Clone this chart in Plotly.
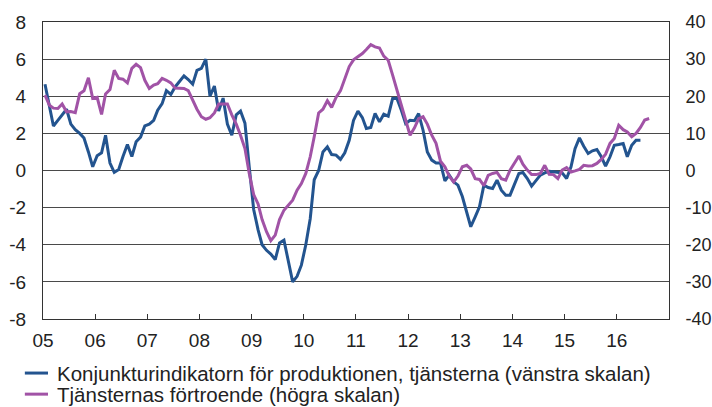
import plotly.graph_objects as go

# Monthly observations, starting January 2005
START_YEAR = 2005

# Konjunkturindikatorn för produktionen, tjänsterna (left scale)
produktion = [
    4.65, 3.5, 2.4, 2.7, 3.0, 3.3, 2.5, 2.2, 2.0, 1.75, 1.0, 0.2,
    0.8, 0.95, 1.9, 0.4, -0.1, 0.05, 0.75, 1.4, 0.75, 1.55, 1.8, 2.4,
    2.5, 2.7, 3.25, 3.6, 4.3, 4.1, 4.5, 4.8, 5.1, 4.9, 4.65, 5.4,
    5.5, 6.0, 4.0, 4.55, 3.2, 3.9, 2.5, 1.9, 3.0, 3.2, 2.55, 0.2,
    -2.1, -3.2, -4.0, -4.3, -4.5, -4.8, -3.9, -3.75, -5.0, -6.0, -5.7, -5.1,
    -4.0, -2.6, -0.5, 0.0, 1.0, 1.27, 0.86, 0.83, 0.6, 0.95, 1.63, 2.7,
    3.2, 2.85, 2.26, 2.32, 3.07, 2.62, 3.03, 2.93, 3.88, 3.88, 3.25, 2.53,
    2.71, 2.68, 3.07, 2.17, 1.0, 0.56, 0.41, 0.41, -0.56, -0.25, -0.61, -0.79,
    -1.4, -2.3, -3.03, -2.5, -1.96, -0.79, -0.92, -0.97, -0.52, -1.06, -1.33, -1.33,
    -0.7, -0.16, -0.11, -0.43, -0.84, -0.52, -0.25, -0.13, -0.04, -0.07, -0.1, -0.13,
    -0.43, 0.2, 1.18, 1.76, 1.31, 0.92, 1.06, 1.13, 0.74, 0.23, 0.74, 1.36,
    1.4, 1.45, 0.74, 1.36, 1.63, 1.63,
]

# Tjänsternas förtroende (right scale)
fortroende = [
    20.3, 17.6, 16.8, 16.7, 17.9, 15.8, 15.9, 15.6, 20.7, 21.5, 25.0, 19.4,
    19.7, 15.1, 20.6, 21.8, 27.0, 24.8, 24.6, 23.6, 27.5, 28.6, 27.7, 24.3,
    22.1, 23.0, 23.4, 24.8, 24.3, 23.6, 22.2, 22.1, 22.1, 21.5, 19.0, 16.5,
    14.5, 13.8, 14.2, 15.5, 17.9, 18.0, 17.9, 15.0, 12.5, 9.5, 5.9, -0.8,
    -6.5, -9.0, -13.2, -16.5, -18.9, -17.4, -13.2, -10.7, -9.3, -8.0, -5.3, -3.5,
    -0.8, 3.7, 9.1, 15.5, 16.5, 18.8, 17.0, 19.7, 21.5, 25.0, 28.0, 29.8,
    30.6, 31.5, 32.6, 33.9, 33.3, 33.0, 30.8, 29.7, 25.7, 21.6, 17.6, 13.1,
    9.5, 11.5, 14.0, 14.5, 12.5, 9.5, 7.3, 2.5, 1.0, -1.5, -3.1, -1.5,
    1.0, 1.4, 0.4, -2.2, -2.4, -4.1, -1.3, -0.8, -0.5, -2.2, -2.6, 0.1,
    2.1, 3.9, 1.7, 0.1, -1.1, -1.1, -0.8, 1.4, -1.0, -1.1, -2.2, 0.1,
    0.8, -0.4, -0.1, 0.3, 1.4, 1.2, 1.3, 1.9, 3.0, 4.4, 7.3, 8.6,
    12.2, 11.0, 10.4, 9.1, 10.0, 11.6, 13.6, 14.0,
]

year_ticks = list(range(2005, 2017))
year_labels = [f"{y % 100:02d}" for y in year_ticks]

left_ticks = [-8, -6, -4, -2, 0, 2, 4, 6, 8]
right_ticks = [-40, -30, -20, -10, 0, 10, 20, 30, 40]

NAME_PROD = "Konjunkturindikatorn för produktionen, tjänsterna (vänstra skalan)"
NAME_FORT = "Tjänsternas förtroende (högra skalan)"

BLUE = "#23548F"
PURPLE = "#A153A6"
TEXT = "#222222"
FONT = "Liberation Sans, Arial, sans-serif"
TICK_SIZE = 19
LEGEND_SIZE = 20.5


def month_dates(n):
    # each observation is placed in the middle of its month
    return [f"{START_YEAR + i // 12}-{i % 12 + 1:02d}-15" for i in range(n)]


fig = go.Figure()
fig.add_trace(go.Scatter(
    x=month_dates(len(produktion)), y=produktion, name=NAME_PROD,
    mode="lines", line=dict(color=BLUE, width=3), yaxis="y",
))
fig.add_trace(go.Scatter(
    x=month_dates(len(fortroende)), y=fortroende, name=NAME_FORT,
    mode="lines", line=dict(color=PURPLE, width=3), yaxis="y2",
))

# legend below the plot: a short coloured stroke followed by the series name
legend_rows = [(NAME_PROD, BLUE, -0.182), (NAME_FORT, PURPLE, -0.253)]
for name, color, yrow in legend_rows:
    fig.add_shape(type="line", xref="paper", yref="paper",
                  x0=-0.029, x1=0.008, y0=yrow, y1=yrow,
                  line=dict(color=color, width=3))
    fig.add_annotation(text=name, xref="paper", yref="paper",
                       x=0.019, y=yrow, xanchor="left", yanchor="middle",
                       showarrow=False,
                       font=dict(family=FONT, size=LEGEND_SIZE, color=TEXT))

fig.update_layout(
    width=712, height=407,
    margin=dict(l=43, r=43, t=22, b=88, autoexpand=False),
    paper_bgcolor="white", plot_bgcolor="white",
    font=dict(family=FONT, size=TICK_SIZE, color=TEXT),
    showlegend=False,
    xaxis=dict(
        type="date", range=["2005-01-01", "2017-01-01"],
        tickvals=[f"{y}-01-01" for y in year_ticks], ticktext=year_labels,
        ticks="inside", ticklen=5, tickcolor="#333333", tickwidth=1,
        showline=True, linecolor="#333333", linewidth=1, mirror=True,
        showgrid=False, zeroline=False, ticklabelstandoff=4,
    ),
    yaxis=dict(
        range=[-8, 8], tickvals=left_ticks, ticktext=[str(v) for v in left_ticks],
        showgrid=True, gridcolor="#4a4a4a", gridwidth=1,
        zeroline=False, showline=True, linecolor="#333333", linewidth=1,
        ticks="", ticklabelstandoff=12,
    ),
    yaxis2=dict(
        range=[-40, 40], tickvals=right_ticks, ticktext=[str(v) for v in right_ticks],
        overlaying="y", side="right",
        showgrid=False, zeroline=False, showline=True, linecolor="#333333",
        linewidth=1, ticks="", ticklabelstandoff=12,
        tickfont=dict(size=18),
    ),
)

fig.write_html("out.html")
